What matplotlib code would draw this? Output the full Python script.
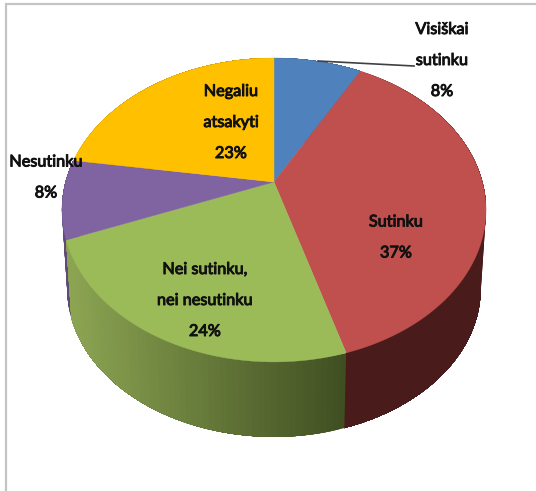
import numpy as np
import matplotlib
matplotlib.use("Agg")
import matplotlib.pyplot as plt
import matplotlib.patheffects as pe
from matplotlib.colors import to_rgb

categories = ["Visiškai\nsutinku", "Sutinku", "Nei sutinku,\nnei nesutinku", "Nesutinku", "Negaliu\natsakyti"]
values = [8.0, 37.4, 23.6, 8.4, 22.6]
top_colors = ["#4F81BD", "#C0504D", "#9BBB59", "#8064A2", "#FFC000"]
side_left = ["#3B618E", "#4E1E1D", "#8DA653", "#5F4A79", "#BF9000"]
side_right = ["#3B618E", "#491C1B", "#404F22", "#5F4A79", "#BF9000"]
label_pos = [(442, 58), (396, 235), (205, 298), (46, 175), (231, 120)]

W, H = 536, 491
APEX_X, APEX_Y = 274, 182
A, B, K = 208.4, 146.8, 0.184
BOTTOM_SCALE, BOTTOM_APEX_Y = 0.975, 261.5
LINE_PX = 31


def rim(theta, scale=1.0, apex_y=APEX_Y):
    x, y = np.sin(theta), np.cos(theta)
    w = 1 + K * y
    return APEX_X + scale * A * x / w, apex_y - scale * B * y / w


fig = plt.figure(figsize=(W / 100, H / 100), dpi=100, facecolor="white")
ax = fig.add_axes([0, 0, 1, 1])
ax.set_xlim(0, W)
ax.set_ylim(H, 0)
ax.axis("off")

edges = np.concatenate([[0], np.cumsum(values)]) / sum(values) * 2 * np.pi
xmin, xmax = 65.0, 347.0

# side walls: back slices first, front slices last
for i in [0, 4, 3, 1, 2]:
    th = np.linspace(edges[i], edges[i + 1], 60)
    xt, yt = rim(th)
    xb, yb = rim(th, BOTTOM_SCALE, BOTTOM_APEX_Y)
    c0, c1 = np.array(to_rgb(side_left[i])), np.array(to_rgb(side_right[i]))
    for j in range(len(th) - 1):
        f = np.clip((xt[j] - xmin) / (xmax - xmin), 0, 1)
        col = c0 + (c1 - c0) * f
        ax.fill(np.r_[xt[j:], xb[j:][::-1]], np.r_[yt[j:], yb[j:][::-1]],
                color=col, lw=0, zorder=2)

# top face
for i in range(len(values)):
    th = np.linspace(edges[i], edges[i + 1], 200)
    xt, yt = rim(th)
    ax.fill(np.r_[APEX_X, xt], np.r_[APEX_Y, yt], color=top_colors[i], lw=0.3, zorder=3)

# frame of the chart area
ax.plot([6, 6, W], [H, 4, 4], color="#C4C4C4", lw=1.6, zorder=1, solid_joinstyle="miter")

# leader line
ax.plot([318, 414], [61, 66], color="#404040", lw=1.2, zorder=5)

for cat, val, (lx, ly) in zip(categories, values, label_pos):
    lines = f"{cat}\n{val:.0f}%".split("\n")
    for k, line in enumerate(lines):
        base = ly + (k - (len(lines) - 1) / 2) * LINE_PX + 7
        ax.text(lx, base, line, ha="center", va="baseline", fontsize=11.7,
                family=["Lato", "DejaVu Sans"], color="#111111",
                zorder=6, path_effects=[pe.withStroke(linewidth=0.7, foreground="#111111")])

fig.savefig("out.png", dpi=100, facecolor="white")
